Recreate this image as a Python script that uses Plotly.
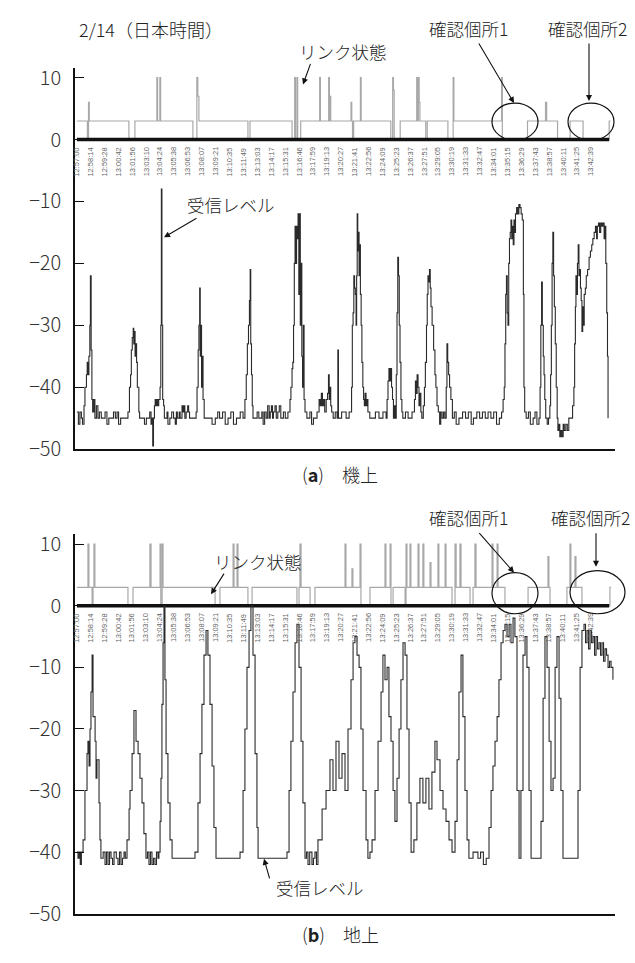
import plotly.graph_objects as go

W, H = 635, 963

# ---------------- data ----------------
time_labels = ["12:57:00", "12:58:14", "12:59:28", "13:00:42", "13:01:56", "13:03:10", "13:04:24",
               "13:05:38", "13:06:53", "13:08:07", "13:09:21", "13:10:35", "13:11:49", "13:13:03",
               "13:14:17", "13:15:31", "13:16:46", "13:17:59", "13:19:13", "13:20:27", "13:21:41",
               "13:22:56", "13:24:09", "13:25:23", "13:26:37", "13:27:51", "13:29:05", "13:30:19",
               "13:31:33", "13:32:47", "13:34:01", "13:35:15", "13:36:29", "13:37:43", "13:38:57",
               "13:40:11", "13:41:25", "13:42:39"]
y_ticks = [-50, -40, -30, -20, -10, 0, 10]

# (a) airborne: receive level (seconds after 12:57:00, dB)
a_level_t = [0, 8, 16, 24, 30, 38, 43, 51, 55, 59, 64, 69, 72, 76, 80, 84, 90, 96, 104, 112, 120, 130, 150, 160, 170,
             195, 205, 214, 222, 233, 253, 272, 280, 286, 290, 295, 300, 303, 306, 310, 314, 318, 322, 330, 334, 350,
             360, 370, 388, 395, 400, 404, 408, 413, 417, 421, 425, 430, 436, 443, 447, 450, 453, 457, 462, 466, 480,
             485, 495, 505, 515, 524, 530, 535, 545, 550, 560, 565, 570, 575, 582, 590, 595, 600, 621, 635, 640, 646,
             650, 654, 657, 660, 664, 668, 672, 678, 698, 720, 737, 750, 760, 776, 790, 805, 820, 834, 850, 870, 885,
             895, 902, 908, 914, 919, 923, 926, 930, 934, 938, 960, 969, 985, 992, 1000, 1008, 1016, 1024, 1030, 1036,
             1042, 1047, 1055, 1062, 1070, 1078, 1086, 1100, 1110, 1124, 1135, 1140, 1146, 1150, 1154, 1158, 1162,
             1166, 1170, 1174, 1178, 1182, 1186, 1190, 1194, 1198, 1202, 1206, 1210, 1215, 1225, 1241, 1250, 1260,
             1279, 1290, 1296, 1302, 1308, 1314, 1320, 1328, 1335, 1340, 1344, 1348, 1352, 1357, 1365, 1376, 1386,
             1390, 1393, 1410, 1434, 1450, 1463, 1467, 1471, 1475, 1479, 1483, 1487, 1490, 1493, 1496, 1499, 1503,
             1506, 1510, 1514, 1518, 1523, 1527, 1531, 1535, 1540, 1545, 1550, 1560, 1590, 1609, 1630, 1647, 1652,
             1657, 1662, 1666, 1670, 1676, 1681, 1686, 1691, 1696, 1701, 1705, 1709, 1713, 1717, 1721, 1726, 1731,
             1736, 1750, 1764, 1785, 1798, 1803, 1808, 1812, 1817, 1822, 1826, 1832, 1837, 1845, 1851, 1856, 1862,
             1866, 1870, 1874, 1878, 1882, 1886, 1892, 1900, 1907, 1912, 1918, 1925, 1932, 1938, 1945, 1953, 1960,
             1967, 1971, 1975, 1980, 1985, 1992, 2000, 2010, 2020, 2035, 2054, 2070, 2085, 2100, 2112, 2130, 2145,
             2160, 2175, 2190, 2205, 2220, 2235, 2250, 2262, 2270, 2276, 2280, 2284, 2288, 2292, 2296, 2300, 2304,
             2308, 2312, 2316, 2320, 2324, 2328, 2332, 2336, 2342, 2348, 2354, 2360, 2366, 2372, 2378, 2381, 2385,
             2393, 2405, 2415, 2430, 2440, 2450, 2461, 2467, 2471, 2475, 2479, 2484, 2488, 2492, 2497, 2505, 2512,
             2519, 2523, 2527, 2531, 2535, 2539, 2543, 2548, 2553, 2558, 2562, 2567, 2572, 2578, 2584, 2590, 2596,
             2604, 2612, 2620, 2630, 2640, 2647, 2651, 2655, 2658, 2662, 2666, 2670, 2674, 2678, 2682, 2686, 2690,
             2694, 2698, 2702, 2708, 2713, 2720, 2728, 2735, 2742, 2748, 2755, 2762, 2768, 2772, 2778, 2784, 2790,
             2796, 2802, 2808, 2812, 2817, 2822, 2826, 2829]
a_level_v = [-44, -46, -44, -45, -46, -43, -40, -38, -36, -38, -35, -30, -22, -34, -42, -44, -42, -45, -43, -45, -44,
             -45, -44, -46, -45, -44, -45, -44, -46, -45, -45, -44, -40, -38, -34, -32, -30.5, -33, -31, -35, -33, -36,
             -40, -44, -45, -45, -46, -45, -44, -46, -45, -49.5, -45, -43, -42, -43, -42, -43, -42, -40, -30, -8, -30,
             -42, -43, -45, -44, -46, -45, -44, -45, -46, -44, -45, -44, -45, -43, -44, -43, -45, -44, -43, -44, -45,
             -45, -44, -40, -34, -30, -24, -35, -30, -40, -35, -42, -45, -45, -46, -45, -44, -45, -44, -46, -45, -44,
             -46, -45, -44, -45, -42, -38, -33, -30, -26, -21, -33, -38, -43, -45, -44, -45, -44, -46, -44, -45, -43,
             -45, -44, -43, -45, -44, -43, -45, -44, -43, -45, -44, -45, -44, -42, -40, -37, -36, -30, -20, -14, -20,
             -14, -16, -12, -25, -12, -30, -20, -35, -40, -30, -42, -44, -45, -44, -46, -45, -44, -42, -43, -41, -43,
             -42, -44, -42, -41, -38, -42, -40, -43, -44, -45, -44, -45, -34, -45, -44, -45, -44, -40, -30, -28, -22,
             -24, -25, -30, -22, -12, -18, -15, -22, -17, -25, -30, -36, -40, -42, -43, -41, -43, -42, -44, -45, -44,
             -45, -44, -45, -42, -39, -37, -39, -37, -40, -42, -45, -43, -45, -38, -28, -19, -22, -30, -36, -42, -44,
             -45, -44, -45, -44, -42, -39, -41, -38, -40, -43, -41, -44, -45, -43, -40, -36, -30, -25, -22, -23, -21,
             -24, -27, -30, -34, -38, -40, -43, -44, -46, -44, -45, -44, -45, -40, -33, -36, -38, -40, -42, -45, -44,
             -46, -45, -44, -45, -44, -46, -45, -44, -45, -44, -45, -44, -45, -44, -46, -45, -44, -42, -40, -33, -25,
             -22, -28, -30, -20, -16, -15, -13, -16, -14, -17, -13, -15, -12, -11, -12, -10.5, -11, -12, -13, -25, -40,
             -44, -45, -44, -46, -45, -44, -46, -45, -40, -30, -23, -30, -35, -38, -42, -45, -46, -45, -43, -38, -30,
             -20, -15, -22, -27, -33, -40, -45, -47, -46, -48, -47, -48, -46, -47, -46, -47, -45, -45, -43, -40, -33,
             -27, -22, -25, -20, -17, -22, -21, -24, -26, -31, -27, -30, -25, -24, -22, -21, -19, -18, -17, -16, -15,
             -14, -16, -14, -13.5, -15, -13.5, -14, -13.5, -16, -14, -20, -28, -35, -45]

# (a) airborne: link state
a_link_t = [0, 56, 62, 66, 277, 309, 426, 430, 442, 446, 450, 618, 639, 644, 650, 655, 911, 922, 1146, 1160, 1164,
            1172, 1176, 1192, 1293, 1297, 1341, 1345, 1348, 1352, 1460, 1464, 1468, 1474, 1510, 1514, 1672, 1682,
            1686, 1690, 1722, 1810, 1814, 1819, 1823, 1827, 1858, 1866, 1976, 2004, 2008, 2262, 2266, 2400, 2496,
            2502, 2560, 2627, 2696, 2835, 2842]
a_link_v = [3, 0, 6, 3, 0, 3, 10, 3, 10, 3, 3, 0, 10, 7, 3, 3, 0, 3, 0, 10, 0, 10, 0, 3, 10, 3, 10, 3, 7, 3, 6, 3,
            0, 3, 10, 3, 0, 10, 8, 0, 3, 10, 3, 10, 6, 3, 0, 3, 0, 10, 3, 10, 0, 3, 6, 3, 0, 3, 0, 3, 3]

# (b) ground: receive level
b_level_t = [0, 6, 12, 18, 24, 33, 43, 54, 59, 65, 70, 75, 81, 86, 97, 102, 107, 118, 123, 128, 140, 150, 158, 166,
             174, 182, 190, 198, 210, 219, 227, 235, 243, 251, 258, 267, 278, 283, 294, 304, 315, 326, 336, 347, 357,
             368, 376, 384, 392, 400, 408, 416, 424, 432, 437, 443, 448, 453, 459, 464, 469, 475, 485, 496, 507, 629,
             645, 656, 666, 677, 688, 698, 709, 720, 730, 741, 869, 885, 895, 906, 917, 927, 938, 949, 959, 965, 1119,
             1130, 1140, 1151, 1162, 1172, 1183, 1194, 1204, 1215, 1223, 1231, 1240, 1252, 1260, 1268, 1276, 1284,
             1306, 1327, 1348, 1364, 1380, 1396, 1412, 1428, 1444, 1460, 1471, 1481, 1492, 1503, 1513, 1524, 1540,
             1550, 1561, 1572, 1588, 1604, 1620, 1630, 1641, 1652, 1662, 1673, 1684, 1694, 1705, 1716, 1726, 1737,
             1748, 1758, 1769, 1780, 1795, 1811, 1827, 1843, 1859, 1875, 1891, 1907, 1918, 1934, 1950, 1966, 1982,
             1998, 2014, 2025, 2035, 2046, 2056, 2067, 2078, 2088, 2110, 2136, 2150, 2165, 2180, 2195, 2206, 2216,
             2227, 2238, 2248, 2259, 2270, 2280, 2291, 2302, 2312, 2323, 2333, 2344, 2355, 2365, 2376, 2387, 2397,
             2408, 2419, 2472, 2483, 2493, 2504, 2515, 2525, 2536, 2547, 2557, 2568, 2578, 2589, 2669, 2680, 2690,
             2701, 2709, 2717, 2725, 2733, 2741, 2749, 2757, 2765, 2773, 2781, 2789, 2797, 2805, 2813, 2821, 2829,
             2837, 2845, 2855]
b_level_v = [-40, -41, -40, -42, -40, -38, -30, -24, -22, -26, -20, -14, -8, -18, -22, -28, -25, -32, -38, -41, -40,
             -42, -40, -42, -40, -41, -42, -40, -41, -42, -40, -42, -41, -40, -41, -38, -33, -30, -24, -17, -22, -24,
             -28, -32, -37, -41, -40, -42, -40, -42, -41, -42, -40, -41, -40, -35, -28, -16, -6, 0, -12, -24, -32, -38,
             -41, -40, -32, -24, -16, -8, -4, -8, -16, -26, -36, -41, -40, -30, -20, -10, -4, 0, -8, -24, -36, -41, -40,
             -30, -22, -14, -6, -3, -10, -22, -32, -41, -40, -42, -40, -42, -41, -40, -42, -38, -33, -30, -25, -30, -22,
             -28, -24, -30, -20, -12, -6, -5, -8, -10, -20, -30, -38, -41, -40, -38, -30, -22, -14, -8, -12, -10, -18,
             -22, -30, -35, -28, -20, -12, -6, -8, -20, -32, -40, -38, -32, -28, -32, -28, -33, -27, -22, -25, -30, -33,
             -35, -38, -40, -35, -25, -14, -8, -18, -30, -38, -41, -40, -41, -40, -42, -41, -36, -30, -26, -22, -18,
             -12, -6, -4, -3, -5, -3, -6, -2, -5, -30, -41, -30, -8, -5, -10, -30, -41, -35, -15, -5, -10, -22, -30,
             -28, -10, -5, -15, -30, -41, -30, -10, -4, -3, -6, -4, -7, -4, -6, -5, -8, -5, -7, -6, -8, -6, -9, -7, -8,
             -10, -9, -10, -12]

# (b) ground: link state
b_link_t = [0, 59, 64, 81, 86, 91, 96, 272, 299, 389, 395, 443, 447, 454, 459, 736, 762, 832, 837, 853, 858, 911, 933,
            1172, 1183, 1188, 1194, 1242, 1268, 1428, 1433, 1465, 1470, 1508, 1513, 1561, 1641, 1646, 1668, 1673, 1684,
            1748, 1753, 1758, 1774, 1779, 1817, 1822, 1843, 1848, 1881, 1886, 1923, 1928, 1961, 1966, 1998, 2014, 2020,
            2040, 2046, 2094, 2110, 2120, 2126, 2211, 2216, 2238, 2243, 2280, 2403, 2509, 2514, 2520, 2610, 2626, 2631,
            2653, 2658, 2690, 2839, 2845]
b_link_v = [3, 10, 3, 0, 3, 10, 3, 0, 3, 10, 3, 10, 0, 10, 3, 0, 3, 10, 3, 10, 3, 0, 3, 0, 3, 10, 3, 0, 3, 10, 3, 6,
            3, 10, 0, 3, 10, 3, 10, 0, 3, 0, 10, 3, 10, 3, 10, 3, 10, 3, 7, 3, 10, 3, 10, 3, 0, 10, 3, 10, 3, 0, 3, 10,
            3, 10, 3, 10, 3, 0, 3, 8, 3, 0, 3, 10, 3, 8, 3, 0, 3, 3]

# ---------------- layout helpers ----------------
def xp(px):
    return px / W


def yp(py):
    return 1 - py / H


T_LABELS = []
for s in time_labels:
    hh, mm, ss = [int(p) for p in s.split(":")]
    T_LABELS.append((hh * 3600 + mm * 60 + ss) - (12 * 3600 + 57 * 60))

JP = "Noto Sans CJK JP"
X_RANGE = [-10, 2866]
Y_RANGE = [-50, 11.6]
X_DOM = [xp(75), xp(615)]
DOMS = {"a": [yp(452), yp(63)], "b": [yp(926), yp(539)]}

fig = go.Figure()

panels = [("a", "x", "y", a_level_t, a_level_v, a_link_t, a_link_v),
          ("b", "x2", "y2", b_level_t, b_level_v, b_link_t, b_link_v)]

for key, xa, ya, lt, lv, kt, kv in panels:
    fig.add_trace(go.Scatter(x=kt, y=kv, mode="lines", line=dict(color="#a8a8a8", width=1.2, shape="hv"),
                             xaxis=xa, yaxis=ya, showlegend=False, hoverinfo="skip"))
    fig.add_trace(go.Scatter(x=[0, 2835], y=[0, 0], mode="lines", line=dict(color="#111", width=3.5),
                             xaxis=xa, yaxis=ya, showlegend=False, hoverinfo="skip"))
    fig.add_trace(go.Scatter(x=lt, y=lv, mode="lines", line=dict(color="#2a2a2a", width=1.1, shape="hv"),
                             xaxis=xa, yaxis=ya, showlegend=False, hoverinfo="skip"))
    for t, lab in zip(T_LABELS, time_labels):
        fig.add_annotation(x=t, y=-3.6, xref=xa, yref=ya, text=lab, textangle=-90, showarrow=False,
                           font=dict(size=7.5, color="#666", family="Liberation Sans"))

axis_common = dict(showgrid=False, zeroline=False)
tickfont = dict(size=20, color="#333", family=JP, weight=300)
fig.update_layout(
    width=W, height=H, margin=dict(l=0, r=0, t=0, b=0),
    paper_bgcolor="white", plot_bgcolor="white",
    xaxis=dict(domain=X_DOM, range=X_RANGE, showline=True, linecolor="#111", linewidth=1.5,
               showticklabels=False, ticks="", anchor="y", **axis_common),
    yaxis=dict(domain=DOMS["a"], range=Y_RANGE, showline=True, linecolor="#111", linewidth=1.5,
               tickvals=y_ticks, ticks="inside", ticklen=9, tickwidth=1.3, tickcolor="#111",
               ticklabelstandoff=8, tickfont=tickfont, anchor="x", **axis_common),
    xaxis2=dict(domain=X_DOM, range=X_RANGE, showline=True, linecolor="#111", linewidth=1.5,
                showticklabels=False, ticks="", anchor="y2", **axis_common),
    yaxis2=dict(domain=DOMS["b"], range=Y_RANGE, showline=True, linecolor="#111", linewidth=1.5,
                tickvals=y_ticks, ticks="inside", ticklen=9, tickwidth=1.3, tickcolor="#111",
                ticklabelstandoff=8, tickfont=tickfont, anchor="x2", **axis_common),
)


def text(px, py, s, size=18, anchor="center"):
    fig.add_annotation(x=xp(px), y=yp(py), xref="paper", yref="paper", text=s, showarrow=False,
                       xanchor=anchor, yanchor="middle", font=dict(size=size, color="#222", family=JP, weight=300))


def arrow(x0, y0, x1, y1):
    fig.add_annotation(x=xp(x1), y=yp(y1), xref="paper", yref="paper", ax=x0 - x1, ay=y0 - y1,
                       text="", showarrow=True, arrowhead=2, arrowsize=1.1, arrowwidth=1.1, arrowcolor="#111")


def circle(x0, y0, x1, y1):
    fig.add_shape(type="circle", xref="paper", yref="paper", x0=xp(x0), x1=xp(x1), y0=yp(y1), y1=yp(y0),
                  line=dict(color="#111", width=1.2))


# panel (a) annotations
text(77, 23, "2/14（日本時間）", 18, "left")
text(343, 46, "リンク状態", 17.5)
arrow(311, 58, 303, 80)
text(468, 23, "確認個所1", 17.5)
text(587, 23, "確認個所2", 17.5)
arrow(478, 38, 514, 99)
arrow(589, 38, 589, 97)
circle(492, 99, 538, 137)
circle(568, 99, 614, 137)
text(231, 203, "受信レベル", 17.5)
arrow(198, 216, 164, 236)
text(340, 477, "(<b>a</b>)　機上", 18)

# panel (b) annotations
text(468, 522, "確認個所1", 17.5)
text(590, 522, "確認個所2", 17.5)
arrow(478, 537, 514, 578)
arrow(596, 537, 596, 572)
circle(492, 578, 538, 620)
circle(570, 576, 625, 620)
text(258, 567, "リンク状態", 17.5)
arrow(225, 578, 211, 600)
text(320, 899, "受信レベル", 17.5)
arrow(270, 891, 264, 870)
text(340, 947, "(<b>b</b>)　地上", 18)

fig.write_html("out.html", post_script="document.body.style.margin='0';",
               config={"displayModeBar": False})
